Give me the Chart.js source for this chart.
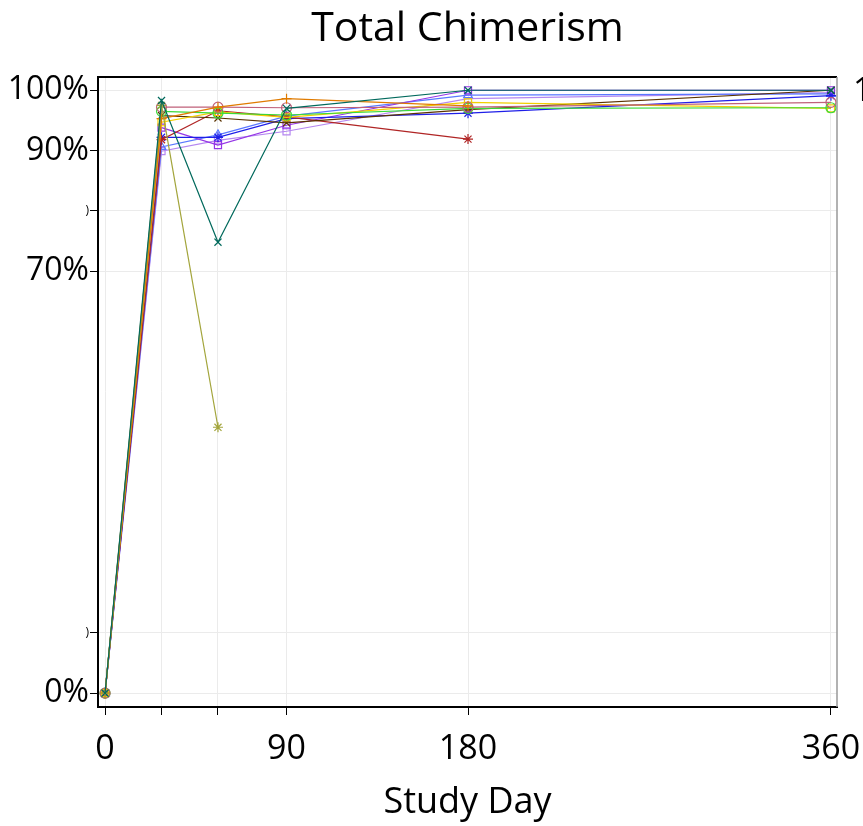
<!DOCTYPE html>
<html>
<head>
<meta charset="UTF-8">
<title>Total Chimerism</title>
<script src="https://cdn.jsdelivr.net/npm/chart.js"></script>
<style>
  html, body { margin: 0; padding: 0; background: #fff; }
  #wrap { width: 863px; height: 826px; }
</style>
</head>
<body>
<div id="wrap"><canvas id="chimChart"></canvas></div>
<script>
// study days
const days = [0, 28, 56, 90, 180, 360];
const xTicks = [0, 28, 56, 90, 180, 360];
const xLabelled = [0, 90, 180, 360];
const yTicks = [0, 10, 70, 80, 90, 100];
const yLabels = {0: '0%', 10: ')', 70: '70%', 80: ')', 90: '90%', 100: '100%'};

// total chimerism (%) per subject
const teal       = [0, 98.3, 74.8, 97.0, 100.0, 100.0];
const olive      = [0, 97.5, 44.1, null, null, null];
const orange     = [0, 95.3, 97.2, 98.6, 97.4, null];
const rose       = [0, 97.2, 97.2, 97.1, 97.2, 98.0];
const green      = [0, 96.5, 96.2, 95.9, 97.0, 97.1];
const yellow     = [0, 94.7, 96.4, 95.5, 98.0, 97.0];
const brown      = [0, 95.8, 95.4, 94.6, 96.8, 100.0];
const red        = [0, 91.8, 96.6, 95.6, 91.9, null];
const blue       = [0, 92.2, 92.2, 95.3, 96.2, 99.1];
const purple     = [0, 93.8, 90.9, 94.2, 100.0, 100.0];
const cornflower = [0, 90.6, 92.6, 95.7, 99.2, 99.4];
const lavender   = [0, 89.9, 91.7, 93.2, 98.6, 99.6];

function series(label, vals, color, style) {
  return {
    label: label,
    data: days.map((d, i) => ({x: d, y: vals[i]})),
    borderColor: color,
    backgroundColor: 'rgba(0,0,0,0)',
    borderWidth: 1.2,
    pointStyle: style,
    pointRadius: 5,
    pointBorderWidth: 1.2,
    tension: 0
  };
}

const FONT = '"Open Sans", "Noto Sans", sans-serif';

// title over the plot area, frame on top and right, cut-off legend text
const extras = {
  id: 'extras',
  afterDraw(chart) {
    const c = chart.ctx, a = chart.chartArea;
    c.save();
    c.strokeStyle = '#000';
    c.lineWidth = 2;
    c.beginPath();
    c.moveTo(a.left, a.top);
    c.lineTo(a.right, a.top);
    c.stroke();
    c.strokeStyle = '#999';
    c.lineWidth = 1.5;
    c.beginPath();
    c.moveTo(a.right, a.top);
    c.lineTo(a.right, a.bottom);
    c.stroke();
    c.fillStyle = '#000';
    c.textBaseline = 'middle';
    c.font = '41px ' + FONT;
    c.textAlign = 'center';
    c.fillText('Total Chimerism', (a.left + a.right) / 2, 29);
    c.font = '33px ' + FONT;
    c.textAlign = 'left';
    c.fillText('1', 853, 92);
    c.restore();
  }
};

new Chart(document.getElementById('chimChart'), {
  type: 'line',
  data: {
    datasets: [
      series('A', teal, '#00695c', 'crossRot'),
      series('B', olive, '#a3a53c', 'star'),
      series('C', orange, '#e07b00', 'cross'),
      series('D', rose, '#c0607a', 'circle'),
      series('E', green, '#3ada3a', 'circle'),
      series('F', yellow, '#f2cf00', 'rect'),
      series('G', brown, '#5a3200', 'crossRot'),
      series('H', red, '#b02525', 'star'),
      series('I', blue, '#1f1fe8', 'star'),
      series('J', purple, '#9535e6', 'rect'),
      series('K', cornflower, '#5a78ff', 'triangle'),
      series('L', lavender, '#b587f0', 'rect')
    ]
  },
  options: {
    responsive: true,
    maintainAspectRatio: false,
    animation: false,
    layout: { padding: { left: 0, right: 26, top: 77, bottom: 2 } },
    plugins: {
      legend: { display: false },
      tooltip: { enabled: false },
      title: { display: false }
    },
    scales: {
      x: {
        type: 'linear',
        min: -3.5,
        max: 363,
        afterBuildTicks(scale) { scale.ticks = xTicks.map(v => ({value: v})); },
        afterFit(scale) { scale.height = 117; scale.paddingRight = 0; scale.paddingLeft = 0; },
        grid: { color: '#ebebeb', tickColor: '#000', tickLength: 8, drawOnChartArea: true },
        border: { color: '#000', width: 2 },
        ticks: {
          color: '#000',
          padding: 14,
          maxRotation: 0,
          autoSkip: false,
          font: { family: FONT, size: 34 },
          callback: v => xLabelled.includes(v) ? String(v) : ''
        },
        title: {
          display: true,
          text: 'Study Day',
          color: '#000',
          font: { family: FONT, size: 36 },
          padding: { top: 0, bottom: 0 }
        }
      },
      y: {
        type: 'linear',
        min: -2.3,
        max: 102.2,
        afterBuildTicks(scale) { scale.ticks = yTicks.map(v => ({value: v})); },
        afterFit(scale) { scale.width = 98; scale.paddingTop = 0; scale.paddingBottom = 0; },
        grid: { color: '#ebebeb', tickColor: '#000', tickLength: 8 },
        border: { color: '#000', width: 2 },
        ticks: {
          color: '#000',
          padding: 1,
          autoSkip: false,
          font: ctx => ({ family: FONT, size: (ctx.tick && yLabels[ctx.tick.value] === ')') ? 12 : 32 }),
          callback: v => yLabels[v]
        }
      }
    }
  },
  plugins: [extras]
});
</script>
</body>
</html>
